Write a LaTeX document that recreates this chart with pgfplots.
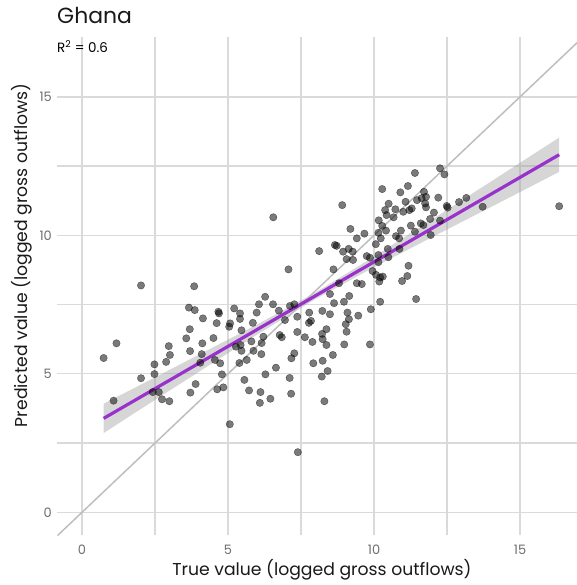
\documentclass[border=0pt]{standalone}
\usepackage{fontspec}
\setmainfont{Poppins}
\usepackage{pgfplots}
\usepackage{pgfplotstable}
\pgfplotsset{compat=1.18}
\definecolor{gridc}{RGB}{218,218,218}
\definecolor{tickc}{RGB}{110,110,110}
\definecolor{regc}{RGB}{153,50,204}
\definecolor{bandc}{RGB}{153,153,153}
\definecolor{diagc}{RGB}{190,190,190}

\pgfplotstableread{
x y
2.02 8.19
3.84 8.16
3.66 7.39
3.86 7.30
4.14 7.00
3.69 6.61
3.57 6.28
1.18 6.10
2.97 6.00
4.12 6.10
3.70 5.82
3.01 5.68
4.10 5.71
0.74 5.57
2.88 5.43
2.48 5.34
4.05 5.40
2.48 4.99
2.02 4.84
3.89 4.63
2.42 4.34
2.63 4.34
3.71 4.32
1.08 4.03
2.74 4.08
2.99 4.01
7.07 8.77
6.27 7.78
6.06 7.51
6.54 7.51
7.12 7.45
7.27 7.51
5.21 7.36
4.67 7.24
4.69 7.18
5.41 7.18
5.98 7.21
6.74 7.28
5.41 6.98
6.95 6.94
7.37 7.06
7.78 7.21
8.23 7.27
4.61 6.83
5.07 6.82
5.04 6.70
5.85 6.84
7.84 6.91
7.77 6.84
5.46 6.57
7.37 6.51
6.77 6.40
6.84 6.32
7.63 6.32
8.22 6.44
8.37 6.61
4.50 6.29
6.21 6.34
7.89 6.15
8.24 6.25
5.80 6.17
6.15 6.11
5.43 6.04
8.37 6.04
5.27 5.98
5.46 5.83
5.87 5.83
6.14 5.71
7.27 5.74
7.17 5.56
4.55 5.50
5.64 5.50
4.73 5.38
5.39 5.39
7.92 5.38
8.24 5.47
6.64 5.22
8.41 5.10
4.79 4.98
6.28 4.98
8.21 4.90
5.56 4.78
7.11 4.85
4.63 4.44
4.84 4.51
5.72 4.40
6.11 4.34
7.16 4.28
6.09 3.95
6.45 4.10
8.30 4.01
5.06 3.18
7.39 2.17
6.55 10.65
8.12 9.43
11.40 12.25
12.26 12.42
12.41 12.20
10.28 11.67
10.90 11.55
11.16 11.78
8.91 11.09
11.71 11.57
11.63 11.34
11.47 11.27
11.78 11.39
12.20 11.36
10.50 11.14
11.08 11.21
10.38 10.91
10.73 10.94
11.21 10.91
11.29 10.97
11.75 11.15
11.78 11.01
12.05 10.82
10.43 10.73
10.67 10.65
11.00 10.85
11.92 10.59
12.26 10.53
12.49 11.06
10.16 10.54
10.28 10.34
11.26 10.35
11.60 10.43
11.69 10.37
9.19 10.23
9.67 10.06
10.41 10.17
10.92 10.17
11.40 10.13
9.41 9.89
10.15 10.09
10.23 9.89
10.75 9.97
10.86 9.89
11.94 10.01
8.66 9.65
8.72 9.62
10.06 9.68
10.47 9.51
10.87 9.51
8.94 9.41
9.13 9.51
9.27 9.41
9.06 9.14
9.28 9.11
9.75 9.25
9.86 9.19
10.15 9.29
10.49 9.21
10.15 9.03
8.61 8.77
9.95 8.71
10.07 8.57
10.21 8.48
10.30 8.51
10.18 8.33
11.18 8.90
11.14 8.53
10.96 8.35
9.41 8.27
9.58 8.24
8.80 8.27
8.49 7.88
9.15 7.81
8.97 7.60
8.63 7.55
10.21 7.60
11.44 7.70
8.49 7.15
9.09 7.21
9.46 7.10
9.89 7.33
9.14 6.97
9.03 6.79
9.06 6.52
8.98 6.06
9.86 6.06
8.59 5.68
12.52 11.00
12.91 11.20
13.16 11.35
13.72 11.03
16.34 11.05
}\pts

\begin{document}
\begin{tikzpicture}
\begin{axis}[
  at={(0,0)}, anchor=south west,
  scale only axis, width=519.5bp, height=498bp,
  xmin=-0.84, xmax=16.95, ymin=-0.82, ymax=17.16,
  axis line style={draw=none},
  tick style={draw=none},
  major tick length=0pt, minor tick length=0pt,
  xtick={0,5,10,15}, ytick={0,5,10,15},
  minor xtick={2.5,7.5,12.5}, minor ytick={2.5,7.5,12.5},
  grid=both,
  major grid style={gridc, line width=1.4bp},
  minor grid style={gridc, line width=1.4bp},
  /pgf/number format/assume math mode=true,
  ticklabel style={font=\fontsize{13}{15}\selectfont, text=tickc},
  xticklabel style={anchor=center, yshift=-14.7bp},
  yticklabel style={anchor=east, inner sep=0pt, xshift=-5.5bp},
  xlabel={True value (logged gross outflows)},
  ylabel={Predicted value (logged gross outflows)},
  label style={font=\fontsize{17.3}{20}\selectfont, text=black!90},
  xlabel style={at={(axis description cs:0.509,-0.0693)}, anchor=center},
  ylabel style={at={(axis description cs:-0.0683,0.562)}, anchor=center},
]
\addplot[only marks, mark=*, mark size=3.7bp,
  mark options={draw=black, fill=black, fill opacity=0.52, draw opacity=0.52, line width=0.4bp}]
  table {\pts};
\addplot[draw=none, fill=bandc, fill opacity=0.4] coordinates {
  (0.74,3.92) (2,4.60) (4,5.69) (6,6.78) (8,7.94) (10,9.23) (12,10.58) (14,11.94) (16.34,13.53)
  (16.34,12.29) (14,11.02) (12,9.94) (10,8.85) (8,7.70) (6,6.42) (4,5.07) (2,3.72) (0.74,2.86)
};
\addplot[diagc, line width=1.5bp] coordinates {(-1,-1) (18,18)};
\addplot[regc, line width=3.2bp] coordinates {(0.74,3.39) (16.34,12.91)};
\end{axis}
\node[anchor=base west, inner sep=0pt, font=\fontsize{22}{26}\selectfont, text=black!90] at (-0.5bp,511bp) {Ghana};
\node[anchor=base west, inner sep=0pt, font=\fontsize{13.5}{16}\selectfont] at (-0.5bp,482.7bp) {R\textsuperscript{2} = 0.6};
\pgfresetboundingbox
\path[use as bounding box] (-57.5bp,-50bp) rectangle (519.5bp,535bp);
\end{tikzpicture}
\end{document}
